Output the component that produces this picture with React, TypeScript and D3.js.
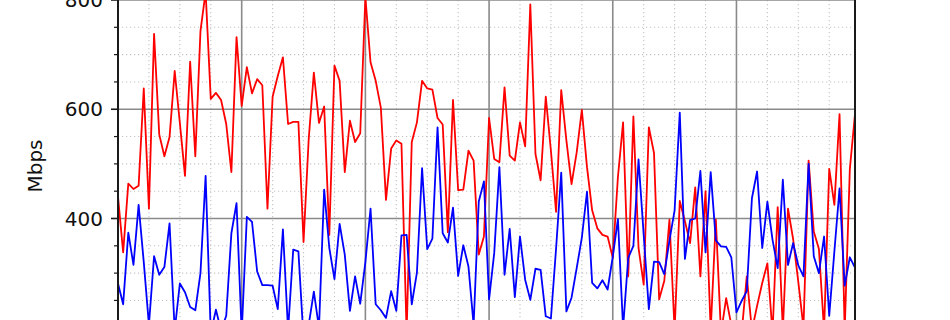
import React from "react";
import * as d3 from "d3";

// Hourly throughput samples (Mbps), 144 points
const hours: number[] = Array.from({ length: 144 }, (_, i) => i);

const redSeries: number[] = [
  440, 338, 464, 454, 460, 638, 418, 738, 554, 514, 549, 670, 575, 478, 687, 514, 743, 815, 619, 630, 617, 573, 485, 732, 606,
  677, 629, 655, 644, 418, 623, 661, 695, 573, 577, 577, 357, 545, 667, 575, 605, 370, 680, 652, 485, 579, 540, 556, 805,
  686, 652, 603, 434, 528, 543, 537, 190, 540, 576, 652, 638, 636, 584, 572, 375, 617, 452, 453, 524, 506, 334, 367, 584,
  509, 503, 640, 515, 506, 576, 532, 792, 518, 470, 623, 524, 412, 635, 543, 463, 521, 599, 494, 415, 382, 370, 367,
  328, 476, 576, 294, 587, 346, 279, 567, 520, 252, 286, 398, 195, 432, 395, 355, 457, 294, 450, 195, 398, 190, 254, 205,
  195, 190, 294, 195, 240, 282, 318, 190, 421, 195, 418, 362, 284, 200, 506, 376, 344, 195, 491, 425, 591, 195, 491, 591,
];

const blueSeries: number[] = [
  281, 243, 374, 315, 425, 320, 205, 331, 297, 311, 391, 195, 281, 265, 238, 232, 300, 478, 190, 233, 195, 222, 373, 428, 190,
  403, 394, 303, 278, 278, 277, 234, 380, 195, 343, 340, 180, 205, 266, 200, 453, 346, 289, 390, 334, 231, 294, 244, 320,
  418, 243, 232, 218, 267, 231, 369, 370, 243, 301, 492, 344, 363, 567, 373, 356, 420, 295, 351, 312, 205, 431, 468, 252,
  337, 494, 297, 381, 256, 367, 288, 251, 308, 306, 221, 217, 345, 484, 230, 255, 309, 365, 449, 282, 272, 287, 270,
  330, 399, 200, 328, 350, 508, 370, 234, 321, 320, 298, 360, 415, 594, 326, 397, 400, 487, 338, 485, 360, 349, 348, 329,
  228, 249, 267, 437, 486, 346, 431, 361, 309, 471, 315, 355, 314, 294, 500, 331, 300, 367, 222, 340, 455, 277, 329, 310,
];

const yMajorTicks: number[] = [200, 400, 600, 800, 1000];
const yTickLabels: string[] = ["400", "600", "800"];
const yMinorTicks: number[] = [250, 300, 350, 450, 500, 550, 650, 700, 750, 850, 900, 950];
const xMajorTicks: number[] = [0, 24, 48, 72, 96, 120];
const xMinorTicks: number[] = [6, 12, 18, 30, 36, 42, 54, 60, 66, 78, 84, 90, 102, 108, 114, 126, 132, 138];

const W = 950;
const H = 320;
const left = 118;
const right = 855;
const plotTop = -200;
const plotBottom = 520;

export default function App() {
  const x = d3.scaleLinear().domain([0, 143]).range([left, right]);
  const y = d3.scaleLinear().domain([400, 800]).range([218.5, 0]);

  const line = d3
    .line<number>()
    .x((_, i) => x(hours[i]))
    .y((d) => y(d));

  const font = "DejaVu Sans, sans-serif";

  return (
    <svg
      width={W}
      height={H}
      style={{ position: "absolute", left: 0, top: 0, background: "#fff" }}
      fontFamily={font}
    >
      <defs>
        <clipPath id="plot">
          <rect x={left} y={plotTop} width={right - left} height={plotBottom - plotTop} />
        </clipPath>
      </defs>
      <rect x={0} y={0} width={W} height={H} fill="#fff" />
      <g clipPath="url(#plot)">
        {yMinorTicks.map((t) => (
          <line key={"ym" + t} x1={left} x2={right} y1={y(t)} y2={y(t)} stroke="#c4c4c4" strokeWidth={1.1} strokeDasharray="1.2,2.8" />
        ))}
        {xMinorTicks.map((t) => (
          <line key={"xm" + t} x1={x(t)} x2={x(t)} y1={plotTop} y2={plotBottom} stroke="#c4c4c4" strokeWidth={1.1} strokeDasharray="1.2,2.8" />
        ))}
        {yMajorTicks.map((t) => (
          <line key={"yM" + t} x1={left} x2={right} y1={y(t)} y2={y(t)} stroke="#8a8a8a" strokeWidth={1.6} />
        ))}
        {xMajorTicks.map((t) => (
          <line key={"xM" + t} x1={x(t)} x2={x(t)} y1={plotTop} y2={plotBottom} stroke="#8a8a8a" strokeWidth={1.6} />
        ))}
        <path d={line(redSeries) || ""} fill="none" stroke="#ff0000" strokeWidth={1.8} strokeLinejoin="round" />
        <path d={line(blueSeries) || ""} fill="none" stroke="#0000ff" strokeWidth={1.8} strokeLinejoin="round" />
      </g>
      {/* spines */}
      <line x1={left} x2={left} y1={plotTop} y2={plotBottom} stroke="#1a1a1a" strokeWidth={2} />
      <line x1={right} x2={right} y1={plotTop} y2={plotBottom} stroke="#1a1a1a" strokeWidth={2} />
      {/* y ticks */}
      {yMajorTicks.map((t) => (
        <line key={"tk" + t} x1={left - 7} x2={left} y1={y(t)} y2={y(t)} stroke="#1a1a1a" strokeWidth={1.6} />
      ))}
      {yTickLabels.map((s) => (
        <text key={"lb" + s} x={left - 15} y={y(+s)} dy="0.36em" textAnchor="end" fontSize={20} fill="#111">
          {s}
        </text>
      ))}
      {yMinorTicks.map((t) => (
        <line key={"tm" + t} x1={left - 4} x2={left} y1={y(t)} y2={y(t)} stroke="#1a1a1a" strokeWidth={1.2} />
      ))}
      <text
        transform="translate(41.5,166) rotate(-90)"
        textAnchor="middle"
        fontSize={20}
        fill="#111"
      >
        Mbps
      </text>
    </svg>
  );
}
